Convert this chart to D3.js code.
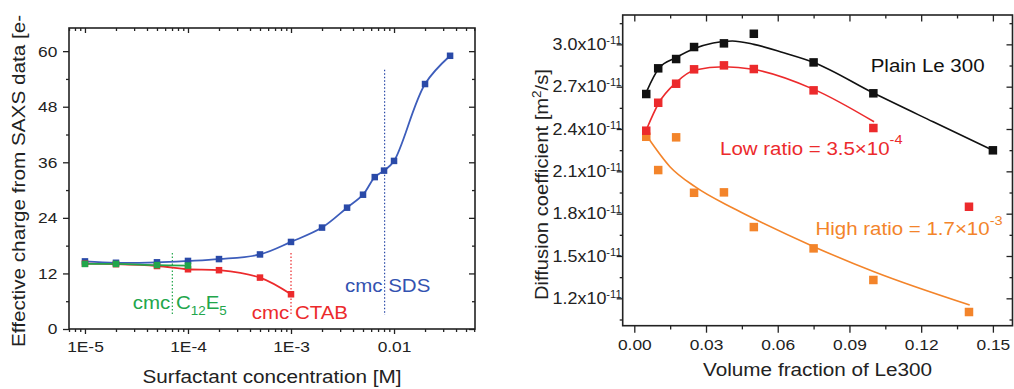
<!DOCTYPE html>
<html>
<head>
<meta charset="utf-8">
<script src="https://cdn.jsdelivr.net/npm/d3@7"></script>
<style>
  body { margin: 0; background: #fff; }
  svg { display: block; }
</style>
</head>
<body>
<svg id="chart" width="1014" height="389"></svg>
<script>
// ---- left panel data: effective charge vs surfactant concentration
const sdsConc     = [1e-5, 2e-5, 5e-5, 1e-4, 2e-4, 5e-4, 1e-3, 2e-3, 3.5e-3, 5e-3, 6.5e-3, 8e-3, 0.01, 0.02, 0.035];
const sdsCharge   = [14.6, 14.3, 14.4, 14.7, 15.1, 16.1, 18.8, 21.9, 26.2, 29.0, 32.8, 34.2, 36.3, 52.9, 59.0];
const ctabConc    = [1e-5, 2e-5, 5e-5, 1e-4, 2e-4, 5e-4, 1e-3];
const ctabCharge  = [14.1, 14.0, 13.6, 12.9, 12.7, 11.1, 7.5];
const c12e5Conc   = [1e-5, 2e-5, 5e-5, 1e-4];
const c12e5Charge = [14.05, 14.05, 13.8, 13.7];
// critical micelle concentrations (dotted markers)
const cmcConc     = [7.05e-5, 1e-3, 8.1e-3];
const cmcTop      = [16.4, 16.4, 56];
const cmcBottom   = [3, 3, 3];

const leftXTicks  = [1e-5, 1e-4, 1e-3, 1e-2];
const leftXLabels = ["1E-5", "1E-4", "1E-3", "0.01"];
const leftYTicks  = [0, 12, 24, 36, 48, 60];
const leftYMinor  = [6, 18, 30, 42, 54];

// ---- right panel data: diffusion coefficient (x1e-11 m2/s) vs volume fraction
const plainFrac = [0.005, 0.01, 0.0175, 0.025, 0.0375, 0.05, 0.075, 0.1, 0.15];
const plainD    = [2.648, 2.830, 2.896, 2.981, 3.007, 3.075, 2.872, 2.653, 2.249];
const lowFrac   = [0.005, 0.01, 0.0175, 0.025, 0.0375, 0.05, 0.075, 0.1, 0.14];
const lowD      = [2.388, 2.586, 2.721, 2.823, 2.851, 2.825, 2.674, 2.407, 1.849];
const highFrac  = [0.005, 0.01, 0.0175, 0.025, 0.0375, 0.05, 0.075, 0.1, 0.14];
const highD     = [2.345, 2.109, 2.341, 1.948, 1.951, 1.705, 1.554, 1.330, 1.103];

// fitted curves
const plainFitX = [0.005, 0.0103, 0.0174, 0.0254, 0.033, 0.041, 0.05, 0.0625, 0.075, 0.1003, 0.125, 0.15];
const plainFitY = [2.66, 2.83, 2.905, 2.972, 3.010, 3.024, 3.0, 2.94, 2.872, 2.653, 2.451, 2.249];
const lowFitX   = [0.005, 0.0103, 0.0174, 0.0254, 0.0376, 0.0497, 0.0751, 0.1003];
const lowFitY   = [2.393, 2.586, 2.728, 2.818, 2.841, 2.823, 2.681, 2.451];
const highFitX  = [0.0059, 0.0149, 0.0254, 0.0414, 0.0497, 0.0751, 0.1003, 0.1403];
const highFitY  = [2.334, 2.133, 1.991, 1.838, 1.767, 1.566, 1.388, 1.152];

const rightXTicks = [0, 0.03, 0.06, 0.09, 0.12, 0.15];
const rightXMinor = [0.015, 0.045, 0.075, 0.105, 0.135];
const rightYTicks = [1.2, 1.5, 1.8, 2.1, 2.4, 2.7, 3.0];
const rightYMinor = [1.05, 1.35, 1.65, 1.95, 2.25, 2.55, 2.85, 3.15];

const FONT = '"Liberation Sans", Arial, sans-serif';
const INK = "#222";
const SX = 1.12; // glyphs in the figure are a bit wider than Arial

const BLUE = "#2a4aa8", BLUE_LINE = "#3d5dbb", RED = "#ec2a2c",
      GREEN = "#22a64b", ORANGE = "#f3842a", BLACK = "#111";

const svg = d3.select("#chart");
svg.append("rect").attr("width", 1014).attr("height", 389).attr("fill", "#fff");

/* - - - helpers - - - */

function ticks(g, axisFn, scale, values, size, fmt, pad, fontSize) {
    const ax = axisFn(scale)
        .tickValues(values)
        .tickSizeInner(size)
        .tickSizeOuter(0)
        .tickPadding(pad || 3)
        .tickFormat(fmt || (() => ""));
    g.call(ax);
    g.select(".domain").remove();
    g.attr("font-family", FONT).attr("font-size", fontSize || 15.5);
    g.selectAll("line").attr("stroke", INK).attr("stroke-width", 1.3);
    g.selectAll("text").attr("fill", INK).attr("transform", `scale(${SX},1)`);
    return g;
}

function label(x, y, fill, size, anchor, rot) {
    return svg.append("text")
        .attr("transform", `translate(${x},${y})` + (rot ? ` rotate(${rot})` : "") + ` scale(${SX},1)`)
        .attr("font-family", FONT)
        .attr("font-size", size)
        .attr("text-anchor", anchor || "start")
        .attr("fill", fill);
}

function pairs(xs, ys) { return xs.map((x, i) => [x, ys[i]]); }

function squares(g, data, x, y, s, color) {
    g.selectAll(null).data(data).enter().append("rect")
        .attr("x", d => x(d[0]) - s / 2)
        .attr("y", d => y(d[1]) - s / 2)
        .attr("width", s).attr("height", s)
        .attr("fill", color);
}

/* - - - left panel - - - */

const L = { left: 69, right: 475, top: 28, bottom: 329 };
const xL = d3.scaleLog().domain([Math.pow(10, -5.155), Math.pow(10, -1.214)]).range([L.left, L.right]);
const yL = d3.scaleLinear().domain([0, 65]).range([L.bottom, L.top]);

const logMinor = [];
for (let e = -6; e <= -2; e++) {
    for (let k = 2; k <= 9; k++) {
        const v = k * Math.pow(10, e);
        if (v > xL.domain()[0] && v < xL.domain()[1]) logMinor.push(v);
    }
}

const gl = svg.append("g");

// axes
ticks(gl.append("g").attr("transform", `translate(0,${L.bottom})`), d3.axisBottom, xL, leftXTicks, 5,
      (d, i) => leftXLabels[i], 7.3);
ticks(gl.append("g").attr("transform", `translate(0,${L.bottom})`), d3.axisBottom, xL, logMinor, 3);
ticks(gl.append("g").attr("transform", `translate(0,${L.top})`), d3.axisTop, xL, leftXTicks, -5);
ticks(gl.append("g").attr("transform", `translate(0,${L.top})`), d3.axisTop, xL, logMinor, -3);
ticks(gl.append("g").attr("transform", `translate(${L.left},0)`), d3.axisLeft, yL, leftYTicks, 6,
      d3.format("d"), 4.4);
ticks(gl.append("g").attr("transform", `translate(${L.left},0)`), d3.axisLeft, yL, leftYMinor, 3);
ticks(gl.append("g").attr("transform", `translate(${L.right},0)`), d3.axisRight, yL, leftYTicks, -6);
ticks(gl.append("g").attr("transform", `translate(${L.right},0)`), d3.axisRight, yL, leftYMinor, -3);

gl.append("rect")
    .attr("x", L.left).attr("y", L.top)
    .attr("width", L.right - L.left).attr("height", L.bottom - L.top)
    .attr("fill", "none").attr("stroke", INK).attr("stroke-width", 1.6);

// cmc dotted lines
const cmcColors = [GREEN, RED, BLUE];
gl.selectAll(".cmc").data(cmcConc).enter().append("line")
    .attr("x1", d => xL(d)).attr("x2", d => xL(d))
    .attr("y1", (d, i) => yL(cmcTop[i])).attr("y2", (d, i) => yL(cmcBottom[i]))
    .attr("stroke", (d, i) => cmcColors[i])
    .attr("stroke-width", 1.2)
    .attr("stroke-dasharray", "1.5,2");

const lineL = d3.line().x(d => xL(d[0])).y(d => yL(d[1])).curve(d3.curveCatmullRom.alpha(0.5));
const sds = pairs(sdsConc, sdsCharge), ctab = pairs(ctabConc, ctabCharge), c12 = pairs(c12e5Conc, c12e5Charge);

gl.append("path").attr("d", lineL(sds)).attr("fill", "none").attr("stroke", BLUE_LINE).attr("stroke-width", 1.8);
gl.append("path").attr("d", lineL(ctab)).attr("fill", "none").attr("stroke", RED).attr("stroke-width", 1.8);
gl.append("path").attr("d", lineL(c12)).attr("fill", "none").attr("stroke", GREEN).attr("stroke-width", 1.8);
squares(gl, sds, xL, yL, 6.5, BLUE);
squares(gl, ctab, xL, yL, 6.5, RED);
squares(gl, c12, xL, yL, 6.5, GREEN);

// annotations
const t1 = label(132.7, 309, GREEN, 18.3);
t1.append("tspan").text("cmc C");
t1.append("tspan").text("12").attr("font-size", 12).attr("dy", 6);
t1.append("tspan").text("E").attr("dy", -6);
t1.append("tspan").text("5").attr("font-size", 12).attr("dy", 6);
label(251.7, 319.3, RED, 18.3).text("cmc CTAB");
label(345, 291.7, "#3352b0", 18.3).text("cmc SDS");

label((L.left + L.right) / 2, 383, INK, 18.5, "middle").text("Surfactant concentration [M]");
label(25, 347, INK, 18.5, "start", -90).text("Effective charge from SAXS data [e-");

/* - - - right panel - - - */

const R = { left: 622.7, right: 1012.5, top: 15, bottom: 325.7 };
const xR = d3.scaleLinear().domain([-0.00485, 0.1582]).range([R.left, R.right]);
const yR = d3.scaleLinear().domain([1.006, 3.208]).range([R.bottom, R.top]);

const gr = svg.append("g");

ticks(gr.append("g").attr("transform", `translate(0,${R.bottom})`), d3.axisBottom, xR, rightXTicks, 7,
      d3.format(".2f"), 6.3);
ticks(gr.append("g").attr("transform", `translate(0,${R.bottom})`), d3.axisBottom, xR, rightXMinor, 3.7);
ticks(gr.append("g").attr("transform", `translate(0,${R.top})`), d3.axisTop, xR, rightXTicks, -6.5);
ticks(gr.append("g").attr("transform", `translate(0,${R.top})`), d3.axisTop, xR, rightXMinor, -3.5);

const yAx = ticks(gr.append("g").attr("transform", `translate(${R.left},0)`), d3.axisLeft, yR, rightYTicks, 6,
      d => d.toFixed(1) + "x10", 1 / SX - 6, 16);
yAx.selectAll("text").append("tspan").text("-11").attr("font-size", 10).attr("dy", -6);
ticks(gr.append("g").attr("transform", `translate(${R.left},0)`), d3.axisLeft, yR, rightYMinor, 3);
ticks(gr.append("g").attr("transform", `translate(${R.right},0)`), d3.axisRight, yR, rightYTicks, -6);
ticks(gr.append("g").attr("transform", `translate(${R.right},0)`), d3.axisRight, yR, rightYMinor, -3);

gr.append("rect")
    .attr("x", R.left).attr("y", R.top)
    .attr("width", R.right - R.left).attr("height", R.bottom - R.top)
    .attr("fill", "none").attr("stroke", INK).attr("stroke-width", 1.6);

const lineR = d3.line().x(d => xR(d[0])).y(d => yR(d[1])).curve(d3.curveMonotoneX);
gr.append("path").attr("d", lineR(pairs(plainFitX, plainFitY))).attr("fill", "none").attr("stroke", BLACK).attr("stroke-width", 1.6);
gr.append("path").attr("d", lineR(pairs(lowFitX, lowFitY))).attr("fill", "none").attr("stroke", RED).attr("stroke-width", 1.6);
gr.append("path").attr("d", lineR(pairs(highFitX, highFitY))).attr("fill", "none").attr("stroke", ORANGE).attr("stroke-width", 1.6);

squares(gr, pairs(highFrac, highD), xR, yR, 8.5, ORANGE);
squares(gr, pairs(lowFrac, lowD), xR, yR, 8.5, RED);
squares(gr, pairs(plainFrac, plainD), xR, yR, 8.5, BLACK);

label(870.7, 72.3, BLACK, 18.3).text("Plain Le 300");
const t2 = label(720, 155, RED, 18.3);
t2.append("tspan").text("Low ratio = 3.5\u00d710");
t2.append("tspan").text("-4").attr("font-size", 13).attr("dy", -11);
const t3 = label(815.5, 235, ORANGE, 18.3);
t3.append("tspan").text("High ratio = 1.7\u00d710");
t3.append("tspan").text("-3").attr("font-size", 13).attr("dy", -10);

label((R.left + R.right) / 2, 376, INK, 18.5, "middle").text("Volume fraction of Le300");
const t4 = label(548, 300, INK, 18, "start", -90);
t4.append("tspan").text("Diffusion coefficient [m");
t4.append("tspan").text("2").attr("font-size", 12).attr("dy", -7);
t4.append("tspan").text("/s]").attr("dy", 7);
</script>
</body>
</html>
